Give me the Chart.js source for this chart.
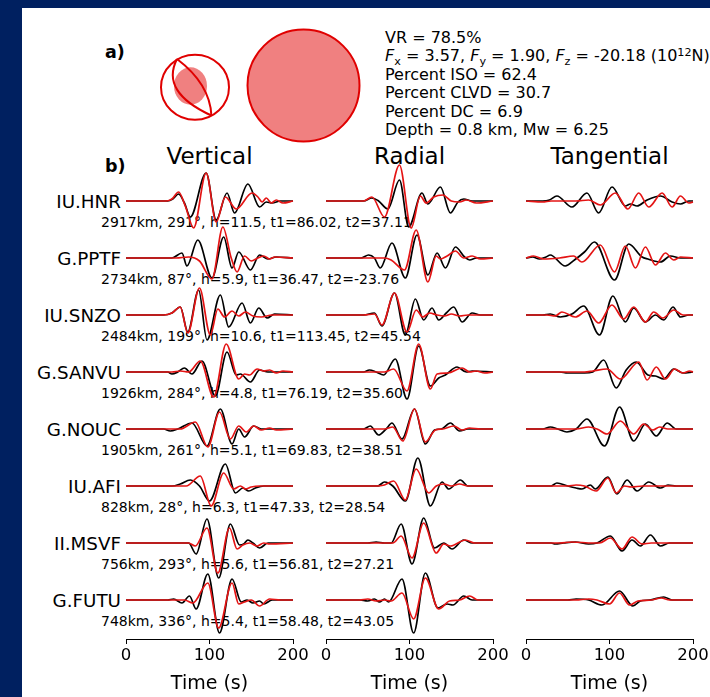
<!DOCTYPE html>
<html>
<head>
<meta charset="utf-8">
<script src="https://cdn.jsdelivr.net/npm/chart.js@4.4.1/dist/chart.umd.min.js"></script>
<style>
  html, body { margin: 0; padding: 0; }
  body { width: 710px; height: 697px; background: #002060; overflow: hidden; position: relative;
         font-family: "DejaVu Sans", sans-serif; }
  #page { position: absolute; left: 22px; top: 8px; width: 688px; height: 689px; background: #fff; }
  .txt { position: absolute; white-space: nowrap; line-height: 1; color: #000; }
  .sb { font-size: 70%; position: relative; top: 0.28em; }
  .sp { font-size: 70%; position: relative; top: -0.45em; }
  canvas { position: absolute; }
</style>
</head>
<body>
<div id="page"></div>
<svg width="710" height="697" style="position:absolute;left:0;top:0">
  <ellipse cx="195" cy="87.2" rx="34" ry="32.5" fill="#fff" stroke="#e00000" stroke-width="2"/>
  <ellipse cx="190.5" cy="86" rx="16.5" ry="18.7" fill="#f08080"/>
  <path d="M177 59 Q210 84 211.4 115.5" fill="none" stroke="#e00000" stroke-width="2"/>
  <path d="M177 59 Q160 92 211.4 115.5" fill="none" stroke="#e00000" stroke-width="2"/>
  <circle cx="303.5" cy="85.5" r="56" fill="#f08080" stroke="#e00000" stroke-width="2"/>
</svg>
<canvas id="cZ" width="227" height="547"></canvas>
<canvas id="cR" width="227" height="547"></canvas>
<canvas id="cT" width="227" height="547"></canvas>
<script>
const stations = ["IU.HNR", "G.PPTF", "IU.SNZO", "G.SANVU", "G.NOUC", "IU.AFI", "II.MSVF", "G.FUTU"];
const infoLines = [
  "2917km, 291°, h=11.5, t1=86.02, t2=37.11",
  "2734km, 87°, h=5.9, t1=36.47, t2=-23.76",
  "2484km, 199°, h=10.6, t1=113.45, t2=45.54",
  "1926km, 284°, h=4.8, t1=76.19, t2=35.60",
  "1905km, 261°, h=5.1, t1=69.83, t2=38.51",
  "828km, 28°, h=6.3, t1=47.33, t2=28.54",
  "756km, 293°, h=5.6, t1=56.81, t2=27.21",
  "748km, 336°, h=5.4, t1=58.48, t2=43.05"
];
const components = ["Vertical", "Radial", "Tangential"];
const timeTicks = [0, 100, 200];
const summary = [
  "VR = 78.5%",
  "<i>F</i><span class='sb'>x</span> = 3.57, <i>F</i><span class='sb'>y</span> = 1.90, <i>F</i><span class='sb'>z</span> = -20.18 (10<span class='sp'>12</span>N)",
  "Percent ISO = 62.4",
  "Percent CLVD = 30.7",
  "Percent DC = 6.9",
  "Depth = 0.8 km, Mw = 6.25"
];

// [time (s), amplitude] pairs, one trace per station
const vertObs = [
  [[0,0],[50,0],[56,2],[63,7],[70,-2],[77,-16],[96,28],[108,-19],[121,8],[130,-12],[146,17],[160,-6],[168,-1],[175,-2],[185,0],[200,0]],
  [[0,0],[55,0],[67,5],[73,-8],[86,18],[103,-20],[117,21],[127,-10],[135,6],[149,-12],[160,3],[170,-1],[180,1],[200,0]],
  [[0,0],[45,0],[55,2],[65,8],[74,-17],[87,25],[97,-25],[113,20],[123,-12],[139,12],[149,-8],[159,7],[169,-3],[178,1],[200,0]],
  [[0,0],[50,0],[55,-2],[62,0],[70,4],[79,-2],[91,11],[107,-24],[121,20],[132,-3],[137,-2],[149,-10],[160,2],[170,0],[200,0]],
  [[0,0],[45,0],[53,-2],[62,0],[79,6],[97,-17],[113,20],[127,-15],[135,0],[142,-8],[153,3],[162,0],[200,0]],
  [[0,0],[55,0],[65,2],[77,6],[88,0],[100,-15],[119,22],[131,-7],[140,-2],[147,-5],[155,-2],[165,0],[200,0]],
  [[0,0],[60,0],[75,0],[84,-11],[97,24],[111,-35],[125,19],[136,-2],[141,-1],[146,3],[152,0],[160,-5],[170,0],[200,0]],
  [[0,0],[50,0],[57,1],[67,-3],[76,4],[84,-9],[98,26],[112,-33],[127,21],[138,-2],[145,0],[152,-3],[160,-1],[165,-4],[175,0],[200,0]]
];
const vertSyn = [
  [[0,0],[48,0],[55,2],[63,9],[71,-5],[81,-27],[96,28],[108,-21],[119,4],[132,-8],[151,8],[158,4],[163,-1],[168,3],[174,-2],[180,1],[188,-2],[200,0]],
  [[0,0],[60,0],[75,1],[88,-3],[103,-21],[116,31],[126,0],[133,-14],[142,2],[150,-3],[158,0],[165,2],[172,-1],[178,1],[200,0]],
  [[0,0],[45,0],[55,2],[65,8],[74,-18],[88,27],[101,-20],[110,6],[118,-2],[127,4],[135,-1],[143,3],[152,-1],[162,-2],[175,0],[200,0]],
  [[0,0],[55,0],[65,1],[75,0],[89,11],[105,-25],[120,28],[135,-7],[142,-2],[148,-3],[157,3],[165,1],[172,2],[180,-1],[188,1],[200,0]],
  [[0,0],[50,0],[65,0],[83,7],[98,-18],[112,17],[125,-10],[135,3],[144,-3],[153,3],[162,-1],[172,1],[180,-1],[200,0]],
  [[0,0],[60,0],[72,0],[89,10],[102,-20],[117,13],[129,-3],[137,0],[143,-3],[150,-1],[160,0],[200,0]],
  [[0,0],[60,0],[75,0],[83,-3],[97,15],[110,-30],[124,15],[133,-6],[140,-2],[148,0],[157,-3],[165,0],[172,-1],[200,0]],
  [[0,0],[55,0],[70,0],[80,-3],[98,17],[111,-28],[127,17],[135,-4],[142,-2],[150,0],[160,-6],[172,1],[185,0],[200,0]]
];
const radObs = [
  [[0,0],[45,0],[55,3],[63,0],[74,-8],[88,21],[99,-26],[115,8],[122,-3],[137,14],[149,-12],[158,-1],[165,2],[175,0],[200,0]],
  [[0,0],[42,0],[51,3],[58,0],[65,-10],[79,15],[95,-20],[109,23],[122,-17],[133,5],[143,-10],[155,11],[166,1],[172,-2],[180,0],[200,0]],
  [[0,0],[45,0],[58,2],[67,-11],[82,22],[95,-20],[107,16],[117,-5],[127,7],[135,-5],[144,2],[153,8],[163,-7],[175,2],[185,0],[200,0]],
  [[0,0],[45,0],[52,2],[60,0],[69,-3],[83,13],[97,-27],[111,26],[125,-14],[135,-6],[143,-3],[157,5],[168,0],[175,1],[200,0]],
  [[0,0],[45,0],[53,3],[63,-6],[72,0],[79,6],[91,-10],[106,20],[119,-15],[130,-1],[138,0],[149,6],[160,-2],[170,0],[200,0]],
  [[0,0],[55,0],[62,0],[70,4],[80,0],[95,-15],[110,28],[125,-20],[139,4],[147,-3],[161,6],[170,0],[200,0]],
  [[0,0],[50,0],[60,1],[70,0],[78,0],[90,19],[103,-21],[117,25],[130,-5],[141,0],[151,-6],[165,3],[175,0],[200,0]],
  [[0,0],[40,0],[50,-1],[58,1],[64,-2],[70,1],[75,-2],[91,21],[105,-33],[119,27],[134,-8],[145,-4],[152,-5],[165,4],[175,0],[200,0]]
];
const radSyn = [
  [[0,0],[45,0],[55,4],[70,-16],[88,36],[102,-27],[113,5],[120,-2],[129,4],[140,6],[150,0],[160,-1],[168,1],[180,-2],[200,0]],
  [[0,0],[60,0],[70,0],[78,-2],[94,-12],[108,28],[122,-24],[132,2],[137,-1],[145,2],[155,7],[165,0],[175,2],[185,-1],[200,0]],
  [[0,0],[45,0],[58,1],[67,-10],[82,22],[97,-17],[108,5],[116,-2],[124,2],[133,0],[142,-1],[150,1],[160,-1],[170,0],[200,0]],
  [[0,0],[55,0],[70,0],[81,3],[97,-19],[111,28],[125,-17],[133,-2],[146,-1],[163,4],[172,0],[180,1],[190,-1],[200,0]],
  [[0,0],[60,0],[70,0],[80,2],[92,-12],[106,20],[119,-13],[131,-1],[140,0],[153,3],[163,-1],[172,1],[185,0],[200,0]],
  [[0,0],[60,0],[70,1],[81,5],[95,-14],[108,17],[123,-7],[132,0],[141,2],[150,0],[160,2],[170,0],[200,0]],
  [[0,0],[60,0],[80,0],[90,7],[103,-15],[117,20],[132,-10],[141,-1],[149,-3],[167,3],[178,0],[200,0]],
  [[0,0],[40,0],[50,1],[60,-1],[70,0],[78,-1],[91,7],[105,-19],[119,22],[135,-9],[148,-1],[160,0],[172,4],[182,0],[200,0]]
];
const tanObs = [
  [[0,0],[20,0],[28,1],[37,5],[55,-6],[73,8],[87,-12],[103,14],[119,-5],[125,-3],[133,-5],[145,1],[161,5],[175,-1],[185,-3],[195,0],[200,0]],
  [[0,0],[8,1],[16,-1],[24,1],[29,3],[47,-8],[58,-2],[70,6],[82,16],[106,-22],[123,14],[139,1],[146,-1],[161,-4],[173,2],[185,0],[200,0]],
  [[0,0],[20,0],[29,1],[41,-2],[55,1],[69,9],[88,-20],[104,19],[119,-7],[129,7],[143,-7],[155,0],[165,-5],[176,8],[185,-2],[195,0],[200,0]],
  [[0,0],[40,0],[50,-1],[70,-1],[80,0],[93,12],[108,-16],[120,2],[132,10],[146,-3],[155,-4],[165,-7],[177,3],[188,-1],[200,0]],
  [[0,0],[20,0],[29,2],[38,0],[49,-3],[60,0],[73,10],[94,-17],[112,22],[129,-12],[143,5],[156,-7],[169,6],[180,0],[200,0]],
  [[0,0],[30,0],[37,3],[50,0],[60,-2],[67,-3],[77,1],[83,-3],[98,9],[109,-8],[121,6],[133,-5],[147,4],[161,-2],[170,1],[180,0],[200,0]],
  [[0,0],[30,0],[35,-1],[45,0],[59,1],[75,-1],[85,0],[101,7],[115,-8],[127,3],[137,-3],[149,8],[161,-3],[172,0],[200,0]],
  [[0,0],[50,0],[60,1],[75,0],[91,-5],[112,9],[128,-6],[137,-1],[148,0],[165,3],[175,0],[200,0]]
];
const tanSyn = [
  [[0,0],[20,-1],[30,0],[60,0],[75,1],[89,-4],[107,8],[122,-8],[135,8],[147,-6],[163,8],[175,-6],[185,5],[195,-2],[200,-1]],
  [[0,0],[9,2],[21,-1],[40,0],[57,2],[67,-4],[89,13],[106,-14],[119,12],[131,-10],[143,11],[155,-7],[167,5],[177,-2],[185,1],[200,0]],
  [[0,0],[25,0],[35,-1],[43,3],[59,-2],[73,4],[87,-8],[103,10],[117,-4],[129,8],[143,-7],[153,3],[164,-3],[177,5],[188,0],[200,0]],
  [[0,0],[70,0],[80,1],[97,3],[113,-7],[135,10],[145,-8],[156,5],[167,-7],[178,3],[188,-1],[196,1],[200,0]],
  [[0,0],[60,0],[75,2],[85,0],[97,-5],[113,8],[129,-5],[141,5],[152,-1],[160,2],[170,0],[200,0]],
  [[0,0],[50,0],[60,1],[70,0],[84,-5],[98,8],[108,-7],[118,0],[126,-1],[140,0],[200,0]],
  [[0,0],[40,0],[55,1],[80,0],[88,0],[101,5],[115,-6],[127,6],[139,-1],[150,0],[200,0]],
  [[0,0],[60,0],[75,1],[85,0],[100,-4],[112,7],[124,-5],[134,-1],[150,0],[162,2],[172,0],[200,0]]
];

// layout
const FONT = "DejaVu Sans";
const rowTop = 201, rowGap = 57;
const colLefts = [126, 326, 526], colWidth = 167;
const chartTop = 150, areaTop = 160, axisY = 639;

function addText(html, x, y, opts = {}) {
  const d = document.createElement("div");
  d.className = "txt";
  d.innerHTML = html;
  d.style.left = x + "px";
  d.style.top = y + "px";
  d.style.fontSize = (opts.size || 14) + "px";
  if (opts.bold) d.style.fontWeight = "bold";
  const tx = opts.align === "right" ? "-100%" : opts.align === "center" ? "-50%" : "0";
  d.style.transform = `translate(${tx}, -50%)`;
  document.body.insertBefore(d, document.getElementById("cZ"));
}

addText("a)", 105, 53, { size: 17.5, bold: true });
addText("b)", 105, 167, { size: 17.5, bold: true });
summary.forEach((s, i) => addText(s, 385, 38 + i * 18.4, { size: 16 }));
components.forEach((c, i) => addText(c, colLefts[i] + colWidth / 2, 156, { size: 23, align: "center" }));
stations.forEach((s, i) => {
  addText(s, 121, rowTop + i * rowGap + 1, { size: 18.3, align: "right" });
  addText(infoLines[i], 101, rowTop + i * rowGap + 21, { size: 14 });
});

function traceData(trace, row) {
  return trace.map(([t, a]) => ({ x: t, y: a - row * rowGap }));
}

function makeColumn(id, col, obs, syn) {
  const cv = document.getElementById(id);
  cv.style.left = (colLefts[col] - 30) + "px";
  cv.style.top = chartTop + "px";
  const datasets = [];
  stations.forEach((s, i) => {
    datasets.push({ data: traceData(syn[i], i), borderColor: "#e41414", order: 1 });
    datasets.push({ data: traceData(obs[i], i), borderColor: "#000", order: 2 });
  });
  new Chart(cv.getContext("2d"), {
    type: "line",
    data: { datasets },
    options: {
      responsive: false,
      animation: false,
      events: [],
      layout: { padding: { left: 30, right: 30, top: areaTop - chartTop, bottom: 0 } },
      plugins: { legend: { display: false }, tooltip: { enabled: false } },
      elements: {
        point: { radius: 0 },
        line: { borderWidth: 1.7, cubicInterpolationMode: "monotone", fill: false }
      },
      datasets: { line: { clip: false } },
      scales: {
        x: {
          type: "linear",
          min: 0,
          max: 200,
          afterBuildTicks: (s) => { s.ticks = timeTicks.map((v) => ({ value: v })); },
          ticks: { color: "#000", font: { family: FONT, size: 16.5 }, padding: 2, maxRotation: 0 },
          grid: { display: true, drawOnChartArea: false, drawTicks: true, tickLength: 5, color: "#000", lineWidth: 1 },
          border: { display: true, color: "#000", width: 1 },
          title: { display: true, text: "Time (s)", color: "#000", font: { family: FONT, size: 19 }, padding: { top: 0, bottom: 2 } },
          afterFit: (s) => { s.height = 697 - axisY; }
        },
        y: { display: false, min: -(axisY - rowTop), max: rowTop - areaTop }
      }
    }
  });
}

makeColumn("cZ", 0, vertObs, vertSyn);
makeColumn("cR", 1, radObs, radSyn);
makeColumn("cT", 2, tanObs, tanSyn);
</script>
</body>
</html>
